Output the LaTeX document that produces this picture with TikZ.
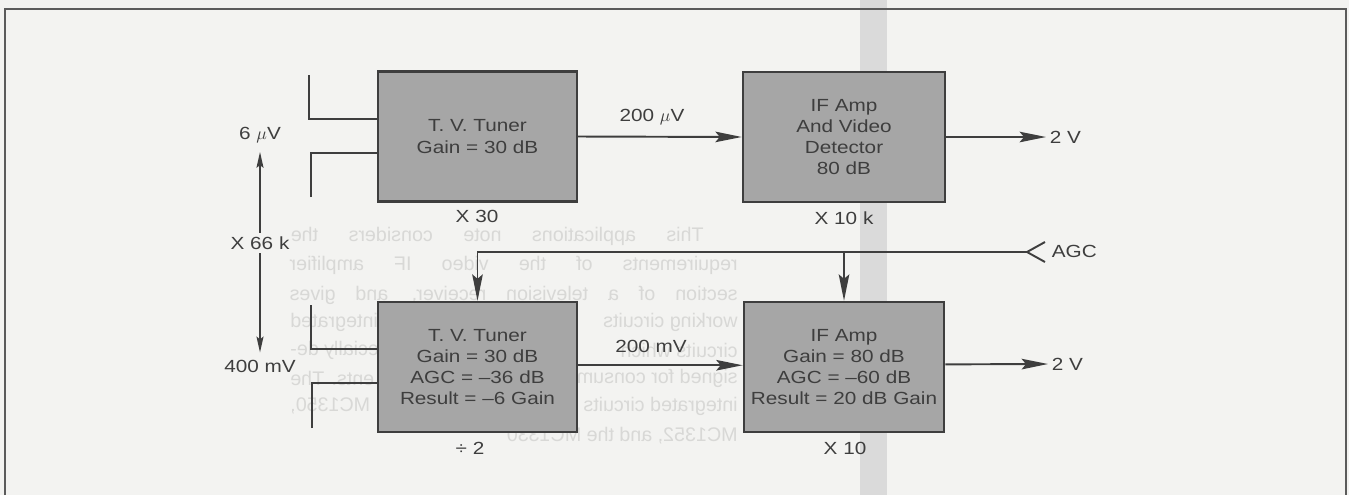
\documentclass[tikz,border=0pt]{standalone}
\usepackage{fontspec}
\usepackage{graphicx}
\setmainfont[FakeStretch=1.18]{Liberation Sans}
\newfontfamily\ghostfont{Liberation Sans}
\usetikzlibrary{arrows.meta}
\definecolor{paper}{HTML}{F3F3F1}
\definecolor{bandgray}{HTML}{DADADA}
\definecolor{ink}{HTML}{3E3E3E}
\definecolor{boxgray}{HTML}{A6A6A6}
\definecolor{ghostgray}{HTML}{D8D8D6}
\newcommand{\ghostsize}{\ghostfont\fontsize{11.2}{13}\selectfont}
\newcommand{\ghostline}[2]{\reflectbox{\makebox[#1][s]{\ghostsize #2}}}
\tikzset{
    stage/.style={draw=ink,fill=boxgray,line width=1.4pt,minimum width=#1,minimum height=74pt,
        align=center,text=ink,font=\fontsize{10}{12}\selectfont,inner sep=0pt},
    level/.style={text=ink,font=\fontsize{10}{12}\selectfont,inner sep=2pt},
    wire/.style={draw=ink,line width=1.1pt},
    flow/.style={wire,-{Stealth[length=15pt,width=6pt,inset=2.5pt]}},
    span/.style={draw=ink,line width=0.8pt,-{Stealth[length=9pt,width=4pt,inset=1.5pt]}},
    ghost/.style={inner sep=0pt,text=ghostgray}
}
\begin{document}
\begin{tikzpicture}[x=0.02cm,y=-0.02cm]
        \useasboundingbox (0,0) rectangle (1349,495);
        \fill[paper] (0,0) rectangle (1349,495);
        \fill[bandgray] (860,0) rectangle (887,495);
        \foreach \gy/\gx/\gw/\gtxt in {236/704/235pt/{This applications note considers the},
                265/738/255pt/{requirements of the video IF amplifier},
                295/738/255pt/{section of a television receiver, and gives}} {
            \node[ghost,anchor=east] (ghost\gy) at (\gx,\gy) {\ghostline{\gw}{\gtxt}};
        }
        \foreach \gy/\gtxt in {322/{working circuits},350/{circuits which},378/{signed for consumer},406/{integrated circuits}} {
            \node[ghost,anchor=east] (ghostr\gy) at (738,\gy) {\reflectbox{\ghostsize \gtxt}};
        }
        \foreach \gy/\gtxt in {322/{integrated},350/{specially de-},378/{ents. The},406/{MC1350,}} {
            \node[ghost,anchor=west] (ghostl\gy) at (290,\gy) {\reflectbox{\ghostsize \gtxt}};
        }
        \node[ghost,anchor=east] (ghostend) at (738,436) {\reflectbox{\ghostsize MC1352, and the MC1330}};
        \draw[ink!85!white,line width=1.1pt] (5,495) -- (5,9) -- (1346,9) -- (1346,495);
        \node[stage=113pt] (tuner) at (477.5,136.5) {T. V. Tuner\\Gain = 30 dB};
        \node[stage=115pt] (detector) at (844,137) {IF Amp\\And Video\\Detector\\80 dB};
        \node[stage=113pt] (agctuner) at (477.5,367) {T. V. Tuner\\Gain = 30 dB\\AGC = --36 dB\\Result = --6 Gain};
        \node[stage=114pt] (agcamp) at (844,367) {IF Amp\\Gain = 80 dB\\AGC = --60 dB\\Result = 20 dB Gain};
        \coordinate (anta) at (309,75);
        \coordinate (antb) at (309,119);
        \coordinate (antc) at (311,197);
        \coordinate (antd) at (311,153);
        \coordinate (ante) at (311,305);
        \coordinate (antf) at (311,349);
        \coordinate (antg) at (312,428);
        \coordinate (anth) at (312,383);
        \draw[wire] (anta) -- (antb) -- (antb -| tuner.west);
        \draw[wire] (antc) -- (antd) -- (antd -| tuner.west);
        \draw[wire] (ante) -- (antf) -- (antf -| agctuner.west);
        \draw[wire] (antg) -- (anth) -- (anth -| agctuner.west);
        \node[level] (inlevel) at (260,135) {6 $\mu$V};
        \node[level] (gainall) at (260,243) {X 66 k};
        \node[level] (outlevel) at (260,366) {400 mV};
        \draw[span,shorten >=3pt] (gainall) -- (inlevel);
        \draw[span,shorten >=2pt] (gainall) -- (outlevel);
        \node[level] (gaina) at (477,216) {X 30};
        \node[level] (gainb) at (844,218) {X 10 k};
        \node[level] (gainc) at (470,448) {÷ 2};
        \node[level] (gaind) at (845,448) {X 10};
        \node[level] (linka) at (652,117) {200 $\mu$V};
        \node[level] (linkb) at (651,346) {200 mV};
        \draw[flow] (tuner.east) -- (detector.west);
        \draw[flow] ([yshift=1pt]agctuner.east) -- ([yshift=1pt]agcamp.west);
        \node[level,anchor=west] (outa) at (1046,137) {2 V};
        \node[level,anchor=west] (outb) at (1048,364) {2 V};
        \draw[flow] (detector.east) -- (outa.west);
        \draw[flow] ([yshift=1.5pt]agcamp.east) -- (outb.west);
        \coordinate (agcin) at (1027,252);
        \coordinate (agcup) at (1045,242);
        \coordinate (agcdown) at (1045,262);
        \node[level,anchor=west] (agclabel) at (1048,251) {AGC};
        \draw[wire] (agcup) -- (agcin) -- (agcdown);
        \draw[flow] (agcin) -| (agctuner.north);
        \draw[flow] (agcamp.north |- agcin) -- (agcamp.north);
    \end{tikzpicture}
\end{document}
